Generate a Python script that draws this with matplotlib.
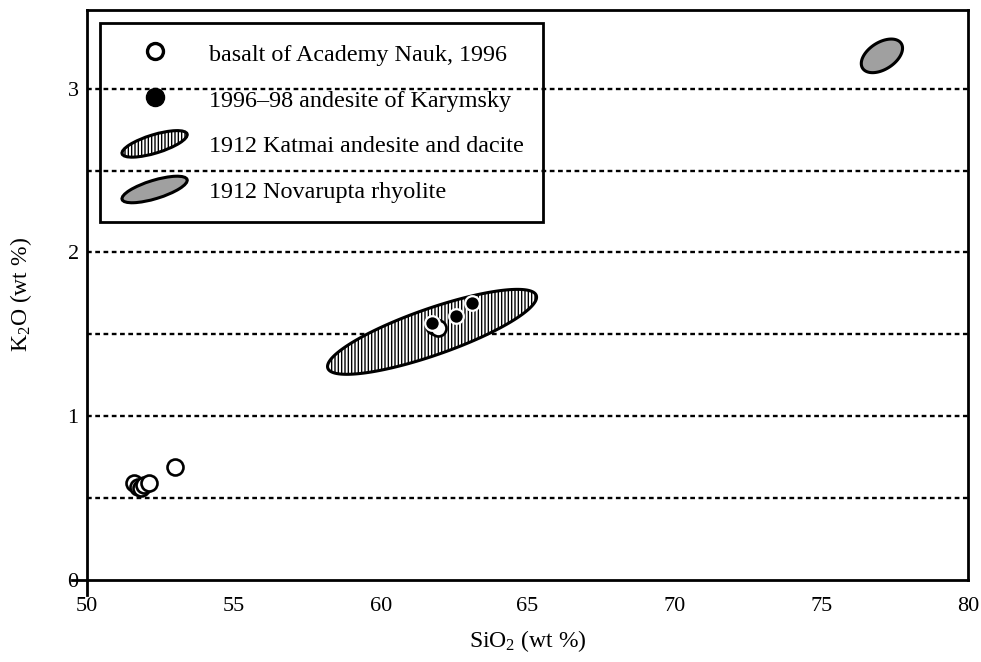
import numpy as np
import matplotlib
matplotlib.use("Agg")
import matplotlib.pyplot as plt
from matplotlib.lines import Line2D
from matplotlib.patches import Ellipse, Patch
from matplotlib.legend_handler import HandlerPatch

plt.rcParams["font.family"] = ["Liberation Serif", "DejaVu Serif"]
plt.rcParams["mathtext.default"] = "regular"
plt.rcParams["hatch.linewidth"] = 1.0

# open circles: basalt of Academy Nauk, 1996
basalt_sio2 = [51.6, 51.75, 51.85, 51.95, 52.1, 53.0, 61.8, 61.95]
basalt_k2o = [0.59, 0.57, 0.56, 0.58, 0.59, 0.69, 1.55, 1.54]

# filled circles: 1996-98 andesite of Karymsky
andesite_sio2 = [61.75, 62.55, 63.1]
andesite_k2o = [1.57, 1.61, 1.69]

# compositional fields: centre, major half-axis vector, minor half-axis vector (data units)
katmai_center = (61.75, 1.515)
katmai_major = (3.55, 0.222)
katmai_minor = (-0.26, 0.134)

novarupta_center = (77.07, 3.20)
novarupta_major = (0.66, 0.075)
novarupta_minor = (-0.24, 0.07)

x_ticks = [50, 55, 60, 65, 70, 75, 80]
y_ticks = [0, 1, 2, 3]
grid_levels = [0.5, 1.0, 1.5, 2.0, 2.5, 3.0]

labels = [
    "basalt of Academy Nauk, 1996",
    "1996\u201398 andesite of Karymsky",
    "1912 Katmai andesite and dacite",
    "1912 Novarupta rhyolite",
]


def field_outline(center, major, minor, n=240):
    t = np.linspace(0, 2 * np.pi, n)
    xs = center[0] + major[0] * np.cos(t) + minor[0] * np.sin(t)
    ys = center[1] + major[1] * np.cos(t) + minor[1] * np.sin(t)
    return xs, ys


class HandlerTiltedEllipse(HandlerPatch):
    def create_artists(self, legend, orig_handle, xdescent, ydescent,
                       width, height, fontsize, trans):
        center = (0.5 * width - xdescent, 0.5 * height - ydescent)
        patch = Ellipse(xy=center, width=width * 0.97, height=height * 0.85, angle=17)
        self.update_prop(patch, orig_handle, legend)
        patch.set_transform(trans)
        return [patch]


fig = plt.figure(figsize=(9.81, 6.62), dpi=100)
ax = fig.add_axes([0.0887, 0.1239, 0.8980, 0.8610])

for level in grid_levels:
    ax.axhline(level, color="black", lw=1.7, ls=(0, (2.0, 1.5)), zorder=1)

kx, ky = field_outline(katmai_center, katmai_major, katmai_minor)
ax.fill(kx, ky, facecolor="white", edgecolor="black", hatch="|||||", lw=2.2, zorder=2)

nx, ny = field_outline(novarupta_center, novarupta_major, novarupta_minor)
ax.fill(nx, ny, facecolor="#a0a0a0", edgecolor="black", lw=2.2, zorder=2)

ax.plot(basalt_sio2, basalt_k2o, ls="none", marker="o", ms=11.5,
        mfc="white", mec="black", mew=1.9, zorder=3)
ax.plot(andesite_sio2, andesite_k2o, ls="none", marker="o", ms=10.5,
        mfc="black", mec="white", mew=1.6, zorder=4)

ax.set_xlim(50, 80)
ax.set_ylim(0, 3.48)
ax.set_xticks(x_ticks)
ax.set_yticks(y_ticks)
ax.tick_params(length=0, labelsize=16, pad=6)
ax.tick_params(axis="x", pad=12)

for side in ["top", "right", "bottom", "left"]:
    ax.spines[side].set_linewidth(2.0)
ax.spines["bottom"].set_bounds(49.5, 80)
ax.spines["left"].set_bounds(-0.09, 3.48)

ax.set_xlabel("SiO$_2$ (wt %)", fontsize=17, labelpad=9)
ax.set_ylabel("K$_2$O (wt %)", fontsize=17, labelpad=24)

handles = [
    Line2D([], [], ls="none", marker="o", ms=11.5, mfc="white", mec="black", mew=2.4),
    Line2D([], [], ls="none", marker="o", ms=13, mfc="black", mec="black"),
    Patch(facecolor="white", edgecolor="black", hatch="|||||", lw=2.2),
    Patch(facecolor="#a0a0a0", edgecolor="black", lw=2.2),
]
leg = ax.legend(
    handles, labels,
    loc="upper left", bbox_to_anchor=(0.015, 0.978), borderaxespad=0,
    fontsize=17.4, frameon=True, fancybox=False,
    facecolor="none", edgecolor="black", handlelength=2.9, handleheight=1.0,
    handletextpad=0.8, labelspacing=0.89, borderpad=0.8,
    handler_map={Patch: HandlerTiltedEllipse()},
)
leg.get_frame().set_linewidth(2.0)
leg.get_frame().set_alpha(None)

fig.savefig("out.png", dpi=100)
